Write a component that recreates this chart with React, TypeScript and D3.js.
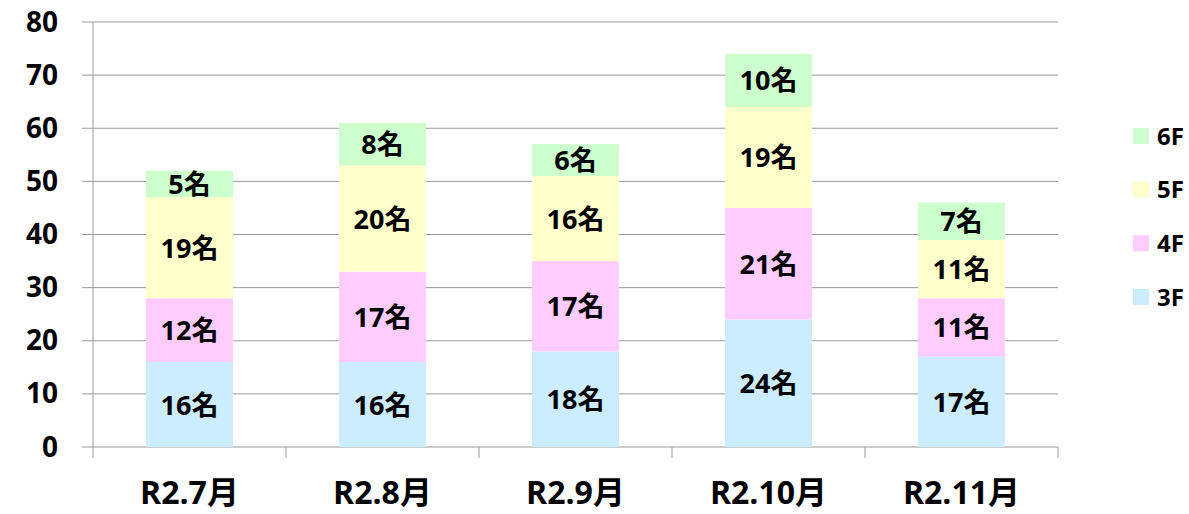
import React from "react";
import * as d3 from "d3";

// 月ごとの人数（フロア別）
const months = ["R2.7月", "R2.8月", "R2.9月", "R2.10月", "R2.11月"];
const floors = ["3F", "4F", "5F", "6F"];
const floor3 = [16, 16, 18, 24, 17];
const floor4 = [12, 17, 17, 21, 11];
const floor5 = [19, 20, 16, 19, 11];
const floor6 = [5, 8, 6, 10, 7];
const yTicks = [0, 10, 20, 30, 40, 50, 60, 70, 80];
const colors = ["#CCECFF", "#FFCCFF", "#FFFFCC", "#CCFFCC"];

const W = 1189;
const H = 514;
const FONT = "'Open Sans', 'Noto Sans CJK JP', sans-serif";

const App = () => {
  const rows = months.map((m, i) => ({
    month: m,
    "3F": floor3[i],
    "4F": floor4[i],
    "5F": floor5[i],
    "6F": floor6[i],
  }));
  const stacked = d3.stack<any>().keys(floors)(rows);

  const left = 93;
  const right = 1058;
  const top = 22;
  const bottom = 447;

  const x = d3.scaleBand().domain(months).range([left, right]).paddingInner(0.55).paddingOuter(0.275);
  const xCat = d3.scaleBand().domain(months).range([left, right]);
  const y = d3.scaleLinear().domain([0, 80]).range([bottom, top]);
  const color = d3.scaleOrdinal<string>().domain(floors).range(colors);

  const legendY = d3.scalePoint().domain([...floors].reverse()).range([136, 297]);

  return (
    <svg width={W} height={H} style={{ position: "absolute", left: 0, top: 0, background: "#fff" }}>
      {/* grid */}
      {yTicks.map((t) => (
        <g key={t}>
          <line x1={82} x2={right} y1={y(t)} y2={y(t)} stroke="#9a9a9a" strokeWidth={1} />
          <text x={58} y={y(t) + 9.5} textAnchor="end" fontFamily={FONT} fontWeight="bold" fontSize={28} fill="#000">
            {t}
          </text>
        </g>
      ))}
      <line x1={left} x2={left} y1={top} y2={458} stroke="#9a9a9a" />
      {months.map((m, i) => (
        <line key={m} x1={left + xCat.step() * (i + 1)} x2={left + xCat.step() * (i + 1)} y1={bottom} y2={458} stroke="#9a9a9a" />
      ))}

      {/* bars */}
      {stacked.map((s) => (
        <g key={s.key}>
          {s.map((d: any, i: number) => (
            <rect
              key={i}
              x={x(d.data.month)}
              width={x.bandwidth()}
              y={y(d[1])}
              height={y(d[0]) - y(d[1])}
              fill={color(s.key)}
            />
          ))}
          {s.map((d: any, i: number) => (
            <text
              key={"t" + i}
              x={(x(d.data.month) as number) + x.bandwidth() / 2}
              y={(y(d[0]) + y(d[1])) / 2 + 10}
              textAnchor="middle"
              fontFamily={FONT}
              fontWeight="bold"
              fontSize={27}
              fill="#000"
            >
              {d[1] - d[0]}名
            </text>
          ))}
        </g>
      ))}

      {/* x labels */}
      {months.map((m) => (
        <text
          key={m}
          x={(xCat(m) as number) + xCat.bandwidth() / 2}
          y={504}
          textAnchor="middle"
          fontFamily={FONT}
          fontWeight="bold"
          fontSize={32}
          fill="#000"
        >
          {m}
        </text>
      ))}

      {/* legend */}
      {floors.map((f) => (
        <g key={f}>
          <rect x={1133} y={(legendY(f) as number) - 8} width={16} height={16} fill={color(f)} />
          <text x={1157} y={(legendY(f) as number) + 8.5} fontFamily={FONT} fontWeight="bold" fontSize={24} fill="#000">
            {f}
          </text>
        </g>
      ))}
    </svg>
  );
};

export default App;
